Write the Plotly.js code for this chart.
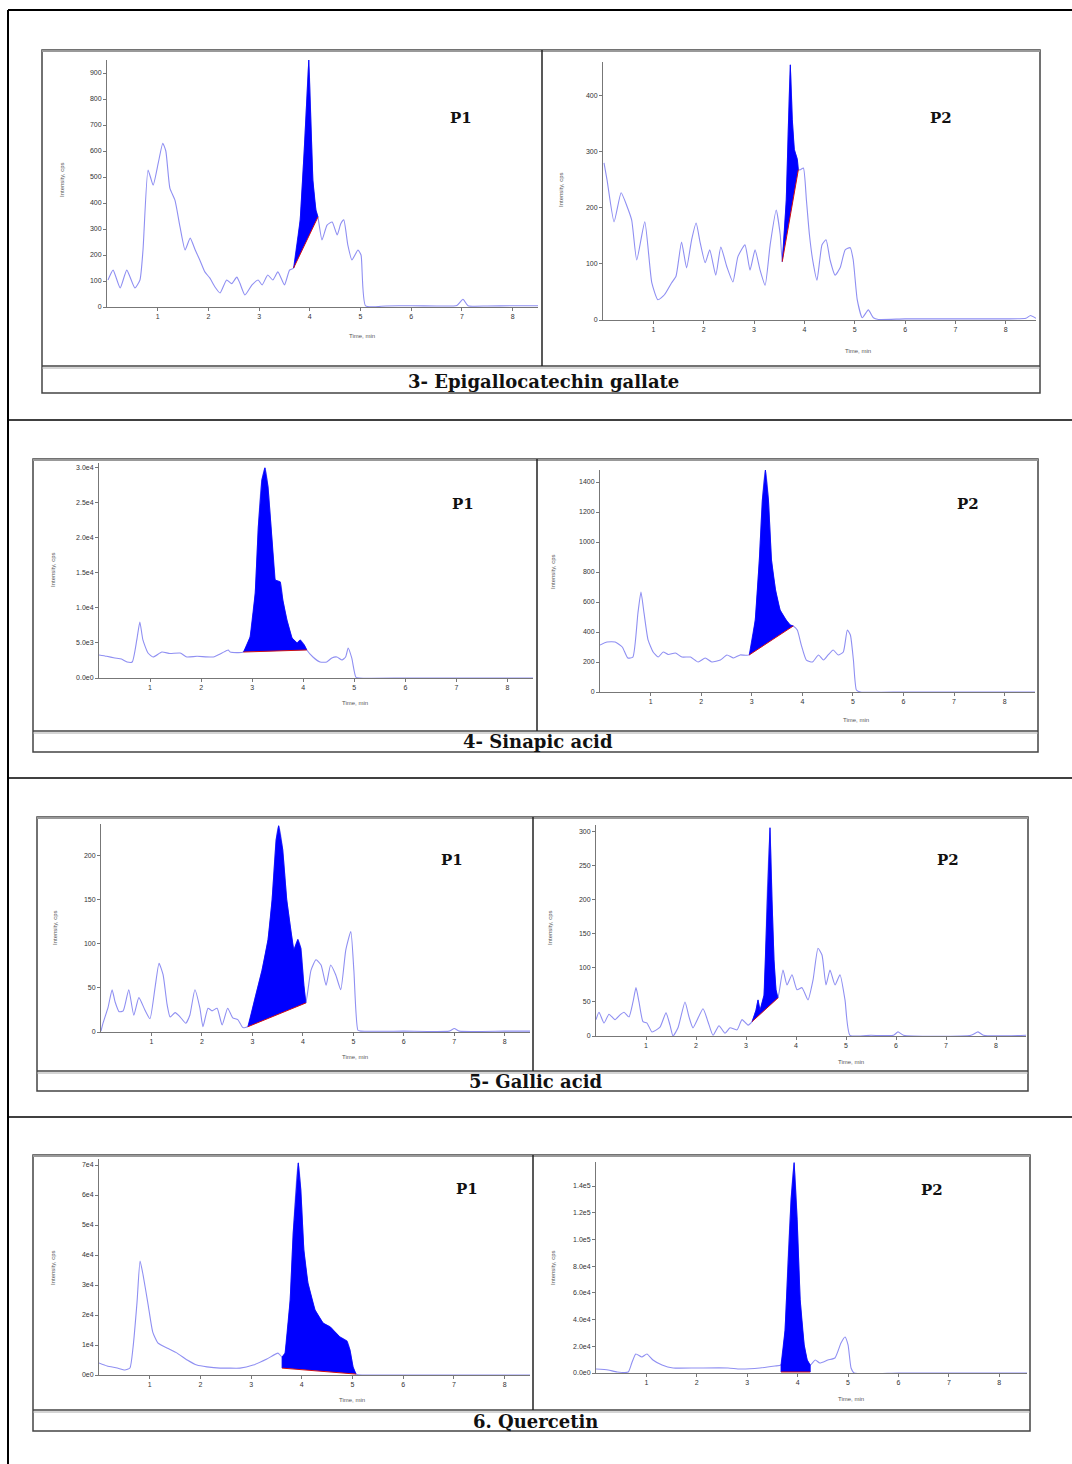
<!DOCTYPE html>
<html>
<head>
<meta charset="utf-8">
<script src="https://cdn.plot.ly/plotly-3.0.1.min.js"></script>
<style>html,body{margin:0;padding:0;background:#fff;}#chart{width:1072px;height:1464px;}</style>
</head>
<body>
<div id="chart"></div>
<script>
// ---------- DATA ----------
const compoundTitles = ["3- Epigallocatechin gallate", "4- Sinapic acid", "5- Gallic acid", "6. Quercetin"];
const panelLabels = ["P1", "P2"];
const xTitle = "Time, min";
const yTitle = "Intensity, cps";
const xTickVals = [1, 2, 3, 4, 5, 6, 7, 8];

// 3- Epigallocatechin gallate, P1
const egcgP1Time = [0.02,0.12,0.26,0.39,0.55,0.65,0.71,0.81,0.91,1.01,1.10,1.16,1.24,1.34,1.44,1.54,1.64,1.74,1.83,1.93,2.03,2.13,2.23,2.36,2.46,2.56,2.62,2.72,2.86,2.98,3.06,3.17,3.27,3.37,3.5,3.6,3.68,3.81,3.89,3.94,3.98,4.02,4.06,4.12,4.16,4.24,4.34,4.44,4.54,4.61,4.67,4.75,4.83,4.89,4.95,5.01,5.1,5.5,6.0,6.5,6.9,7.02,7.12,7.5,8.0,8.5];
const egcgP1Int  = [104,142,73,142,73,104,219,527,469,553,630,600,457,411,308,219,265,219,181,135,111,77,54,104,90,115,92,46,85,104,85,123,104,135,85,142,150,335,604,796,950,719,488,373,346,258,315,327,277,320,335,238,181,200,219,200,4,4,5,4,6,30,5,4,5,5];
const egcgP1Peak = [3.68, 150, 4.16, 346];
const egcgP1YTicks = [0,100,200,300,400,500,600,700,800,900];
const egcgP1YText  = ["0","100","200","300","400","500","600","700","800","900"];

// 3- Epigallocatechin gallate, P2
const egcgP2Time = [0.02,0.08,0.22,0.36,0.48,0.57,0.67,0.83,0.97,1.09,1.22,1.36,1.45,1.56,1.66,1.76,1.85,1.93,2.03,2.12,2.24,2.34,2.46,2.58,2.68,2.82,2.92,3.02,3.12,3.22,3.32,3.44,3.52,3.56,3.64,3.68,3.72,3.76,3.80,3.86,3.88,3.92,3.98,4.04,4.10,4.17,4.25,4.35,4.43,4.51,4.61,4.71,4.81,4.91,4.97,5.05,5.15,5.27,5.37,5.47,6.0,7.0,8.0,8.4,8.49,8.6];
const egcgP2Int  = [280,250,175,227,202,178,107,175,66,36,45,66,78,139,93,143,173,138,102,125,80,130,95,68,113,134,89,125,89,62,134,196,152,104,214,339,455,357,304,286,268,268,271,214,152,104,71,134,143,107,80,93,125,129,107,36,4,18,4,1,2,2,2,3,8,3];
const egcgP2Peak = [3.56, 104, 3.88, 268];
const egcgP2YTicks = [0,100,200,300,400];
const egcgP2YText  = ["0","100","200","300","400"];

// 4- Sinapic acid, P1
const sinP1Time = [0.0,0.15,0.31,0.44,0.55,0.65,0.74,0.80,0.86,0.96,1.06,1.23,1.39,1.59,1.72,1.92,2.24,2.41,2.53,2.57,2.83,2.96,3.06,3.12,3.19,3.25,3.31,3.39,3.45,3.55,3.60,3.68,3.78,3.88,3.94,4.02,4.07,4.19,4.33,4.46,4.56,4.66,4.76,4.83,4.88,4.95,5.03,5.1,6.0,7.0,8.0,8.5];
const sinP1Int  = [3290,3100,2860,2700,2290,2290,5430,8000,5430,3570,3000,3710,3500,3570,3000,3100,3000,3570,4000,3710,3710,5860,12140,21570,28290,30000,27290,19290,14000,13710,11140,8290,5710,5000,5430,4710,4000,3000,2290,2290,2860,3000,2570,3000,4290,2860,140,0,0,0,0,0];
const sinP1Peak = [2.83, 3710, 4.07, 4000];
const sinP1YTicks = [0,5000,10000,15000,20000,25000,30000];
const sinP1YText  = ["0.0e0","5.0e3","1.0e4","1.5e4","2.0e4","2.5e4","3.0e4"];

// 4- Sinapic acid, P2
const sinP2Time = [0.0,0.14,0.30,0.44,0.55,0.65,0.75,0.81,0.87,0.95,1.05,1.15,1.25,1.35,1.49,1.62,1.79,1.94,2.08,2.21,2.38,2.51,2.64,2.77,2.95,3.07,3.15,3.21,3.27,3.33,3.39,3.47,3.56,3.68,3.76,3.82,3.90,3.98,4.08,4.20,4.32,4.42,4.51,4.61,4.71,4.81,4.89,4.95,5.01,5.07,5.15,6.0,7.0,8.0,8.6];
const sinP2Int  = [313,333,333,300,227,233,527,667,527,347,267,233,267,250,260,233,233,200,227,200,213,247,227,247,247,480,880,1280,1480,1280,880,680,547,480,447,440,413,313,213,200,247,213,247,280,247,267,413,380,213,13,0,0,0,0,0];
const sinP2Peak = [2.95, 247, 3.82, 440];
const sinP2YTicks = [0,200,400,600,800,1000,1200,1400];
const sinP2YText  = ["0","200","400","600","800","1000","1200","1400"];

// 5- Gallic acid, P1
const galP1Time = [0.0,0.04,0.14,0.22,0.28,0.36,0.44,0.55,0.65,0.75,0.87,0.97,1.07,1.15,1.23,1.31,1.37,1.47,1.57,1.68,1.76,1.86,1.96,2.02,2.12,2.20,2.30,2.40,2.51,2.61,2.71,2.81,2.91,3.05,3.19,3.31,3.39,3.47,3.52,3.60,3.68,3.76,3.82,3.90,3.96,4.02,4.06,4.16,4.26,4.36,4.46,4.55,4.65,4.75,4.85,4.95,5.01,5.09,5.15,6.0,6.9,7.0,7.1,8.0,8.5];
const galP1Int  = [1,10,28,48,34,23,24,48,19,39,25,15,50,78,65,31,17,22,17,10,19,48,27,6,27,24,27,8,27,16,14,5,6,38,70,105,150,218,234,207,150,116,93,105,95,53,33,70,82,76,53,76,65,48,93,114,70,2,1,1,1,4,1,1,1];
const galP1Peak = [2.91, 6, 4.06, 33];
const galP1YTicks = [0,50,100,150,200];
const galP1YText  = ["0","50","100","150","200"];

// 5- Gallic acid, P2
const galP2Time = [0.0,0.06,0.16,0.26,0.38,0.48,0.56,0.66,0.74,0.80,0.86,0.94,1.02,1.12,1.28,1.40,1.48,1.54,1.64,1.78,1.86,1.94,2.14,2.24,2.34,2.46,2.58,2.68,2.82,2.92,3.04,3.12,3.20,3.24,3.28,3.36,3.42,3.48,3.52,3.56,3.60,3.64,3.74,3.82,3.92,4.02,4.12,4.24,4.34,4.44,4.52,4.60,4.68,4.78,4.88,4.98,5.08,5.5,5.95,6.04,6.15,7.5,7.64,7.75,8.6];
const galP2Int  = [24,35,19,32,24,31,35,28,50,71,50,21,19,6,13,34,16,0,12,50,28,12,40,21,1,15,4,12,9,24,16,21,38,53,38,60,200,306,200,112,68,56,97,75,90,68,71,53,82,129,119,75,97,75,90,53,1,1,1,6,1,1,6,1,1];
const galP2Peak = [3.12, 21, 3.64, 56];
const galP2YTicks = [0,50,100,150,200,250,300];
const galP2YText  = ["0","50","100","150","200","250","300"];

// 6. Quercetin, P1
const querP1Time = [0.0,0.16,0.36,0.51,0.61,0.67,0.75,0.81,0.87,0.97,1.06,1.16,1.34,1.54,1.74,1.93,2.13,2.39,2.54,2.78,3.04,3.31,3.53,3.61,3.67,3.77,3.83,3.90,3.93,3.98,4.04,4.12,4.26,4.42,4.56,4.75,4.89,4.95,5.01,5.07,5.2,6.0,7.0,8.0,8.5];
const querP1Int  = [4000,3000,2330,1670,2330,9000,24300,38000,33300,23300,14300,10700,9000,7300,5000,3300,2700,2300,2300,2300,3300,5300,7300,6000,7300,25000,47300,66000,70700,61700,41700,30700,21700,17300,16000,12700,11300,8300,2700,300,0,0,0,0,0];
const querP1Peak = [3.61, 2300, 5.07, 300];
const querP1YTicks = [0,10000,20000,30000,40000,50000,60000,70000];
const querP1YText  = ["0e0","1e4","2e4","3e4","4e4","5e4","6e4","7e4"];

// 6. Quercetin, P2
const querP2Time = [0.0,0.24,0.42,0.64,0.71,0.79,0.91,1.01,1.13,1.31,1.53,2.00,2.62,2.86,3.25,3.55,3.67,3.75,3.81,3.87,3.93,3.99,4.05,4.13,4.19,4.25,4.35,4.44,4.60,4.74,4.86,4.94,5.00,5.06,5.12,6.0,7.0,8.0,8.55];
const querP2Int  = [3000,2250,750,750,7500,14250,12000,14250,9750,6000,3750,3750,3750,3000,3750,5250,6000,32000,85000,130000,157500,115000,55000,21000,9750,6000,9750,7500,9750,11250,22500,27000,21000,3750,0,0,0,0,0];
const querP2Peak = [3.67, 750, 4.25, 750];
const querP2YTicks = [0,20000,40000,60000,80000,100000,120000,140000];
const querP2YText  = ["0.0e0","2.0e4","4.0e4","6.0e4","8.0e4","1.0e5","1.2e5","1.4e5"];

// ---------- LAYOUT GEOMETRY (pixels) ----------
const W = 1072, H = 1464;
const px = v => v / W;
const py = v => 1 - v / H;

const panels = [
  {t: egcgP1Time, v: egcgP1Int, pk: egcgP1Peak, yt: egcgP1YTicks, ytt: egcgP1YText, x0:107, x1:538, xmax:8.5, ytop:60,  ybot:307,  ymax:950,   lab:[461,118], xt:[362,336],  yti:[62,180]},
  {t: egcgP2Time, v: egcgP2Int, pk: egcgP2Peak, yt: egcgP2YTicks, ytt: egcgP2YText, x0:603, x1:1036,xmax:8.6, ytop:62,  ybot:320,  ymax:460,   lab:[941,118], xt:[858,351],  yti:[561,190]},
  {t: sinP1Time,  v: sinP1Int,  pk: sinP1Peak,  yt: sinP1YTicks,  ytt: sinP1YText,  x0:99,  x1:533, xmax:8.5, ytop:463, ybot:678,  ymax:30700, lab:[463,504], xt:[355,703],  yti:[53,570]},
  {t: sinP2Time,  v: sinP2Int,  pk: sinP2Peak,  yt: sinP2YTicks,  ytt: sinP2YText,  x0:600, x1:1035,xmax:8.6, ytop:470, ybot:692,  ymax:1480,  lab:[968,504], xt:[856,720],  yti:[553,572]},
  {t: galP1Time,  v: galP1Int,  pk: galP1Peak,  yt: galP1YTicks,  ytt: galP1YText,  x0:101, x1:530, xmax:8.5, ytop:824, ybot:1032, ymax:236,   lab:[452,860], xt:[355,1057], yti:[55,928]},
  {t: galP2Time,  v: galP2Int,  pk: galP2Peak,  yt: galP2YTicks,  ytt: galP2YText,  x0:596, x1:1026,xmax:8.6, ytop:825, ybot:1036, ymax:310,   lab:[948,860], xt:[851,1062], yti:[550,928]},
  {t: querP1Time, v: querP1Int, pk: querP1Peak, yt: querP1YTicks, ytt: querP1YText, x0:99,  x1:530, xmax:8.5, ytop:1159,ybot:1375, ymax:72000, lab:[467,1189],xt:[352,1400], yti:[53,1268]},
  {t: querP2Time, v: querP2Int, pk: querP2Peak, yt: querP2YTicks, ytt: querP2YText, x0:596, x1:1027,xmax:8.55,ytop:1162,ybot:1373, ymax:158000,lab:[932,1190],xt:[851,1399], yti:[553,1268]}
];

const boxes = [
  {x0:42, x1:1040, y0:50,  y1:393,  cap:366,  div:542, tx:543, ty:381},
  {x0:33, x1:1038, y0:459, y1:752,  cap:731,  div:537, tx:538, ty:742},
  {x0:37, x1:1028, y0:817, y1:1091, cap:1071, div:533, tx:535, ty:1081},
  {x0:33, x1:1030, y0:1155,y1:1431, cap:1410, div:533, tx:535, ty:1421}
];

const traces = [];
const layout = {
  width: W, height: H,
  margin: {l:0, r:0, t:0, b:0, pad:0},
  paper_bgcolor: '#ffffff', plot_bgcolor: 'rgba(0,0,0,0)',
  showlegend: false,
  shapes: [], annotations: []
};

const axisFont = {family: 'Liberation Sans, Arial, sans-serif', size: 7, color: '#333'};

panels.forEach((p, i) => {
  const n = i + 1;
  const xa = 'x' + (n === 1 ? '' : n), ya = 'y' + (n === 1 ? '' : n);
  const xk = 'xaxis' + (n === 1 ? '' : n), yk = 'yaxis' + (n === 1 ? '' : n);
  layout[xk] = {
    domain: [px(p.x0), px(p.x1)], anchor: ya, range: [0, p.xmax],
    showgrid: false, zeroline: false, showline: true, linecolor: '#777', linewidth: 1,
    ticks: 'outside', ticklen: 3, tickcolor: '#777', tickvals: xTickVals,
    ticktext: xTickVals.map(String), tickfont: axisFont, fixedrange: true
  };
  layout[yk] = {
    domain: [py(p.ybot), py(p.ytop)], anchor: xa, range: [0, p.ymax],
    showgrid: false, zeroline: false, showline: true, linecolor: '#777', linewidth: 1,
    ticks: 'outside', ticklen: 3, tickcolor: '#777', tickvals: p.yt, ticktext: p.ytt,
    tickfont: axisFont, fixedrange: true
  };
  // chromatogram line
  traces.push({x: p.t, y: p.v, xaxis: xa, yaxis: ya, type: 'scatter', mode: 'lines',
    line: {color: '#8f8ff2', width: 1.1, shape: 'spline', smoothing: 0.5}, hoverinfo: 'skip', cliponaxis: true});
  // integrated peak area
  const fx = [p.pk[0]], fy = [p.pk[1]];
  p.t.forEach((tt, k) => { if (tt >= p.pk[0] && tt <= p.pk[2]) { fx.push(tt); fy.push(p.v[k]); } });
  fx.push(p.pk[2]); fy.push(p.pk[3]);
  traces.push({x: fx, y: fy, xaxis: xa, yaxis: ya, type: 'scatter', mode: 'lines',
    fill: 'toself', fillcolor: '#0000ff', line: {color: '#0000ff', width: 0.8}, hoverinfo: 'skip'});
  // baseline
  traces.push({x: [p.pk[0], p.pk[2]], y: [p.pk[1], p.pk[3]], xaxis: xa, yaxis: ya, type: 'scatter',
    mode: 'lines', line: {color: '#d01010', width: 1}, hoverinfo: 'skip'});

  layout.annotations.push({xref:'paper', yref:'paper', x: px(p.lab[0]), y: py(p.lab[1]), text: '<b>' + panelLabels[i % 2] + '</b>',
    showarrow: false, xanchor: 'center', yanchor: 'middle', font: {family: 'DejaVu Serif, serif', size: 15, color: '#111'}});
  layout.annotations.push({xref:'paper', yref:'paper', x: px(p.xt[0]), y: py(p.xt[1]), text: xTitle,
    showarrow: false, xanchor: 'center', yanchor: 'middle', font: {family: 'Liberation Sans, Arial, sans-serif', size: 6, color: '#555'}});
  layout.annotations.push({xref:'paper', yref:'paper', x: px(p.yti[0]), y: py(p.yti[1]), text: yTitle, textangle: -90,
    showarrow: false, xanchor: 'center', yanchor: 'middle', font: {family: 'Liberation Sans, Arial, sans-serif', size: 6, color: '#555'}});
});

// outer table lines
const S = layout.shapes;
const line = (x0, y0, x1, y1, c, w) => S.push({type:'line', xref:'paper', yref:'paper', x0:px(x0), y0:py(y0), x1:px(x1), y1:py(y1), line:{color:c, width:w}});
line(8, 10, 1072, 10, '#000', 2);
line(8, 10, 8, 1464, '#000', 2);
[420, 778, 1117].forEach(yy => line(8, yy, 1072, yy, '#000', 1.5));

boxes.forEach((b, i) => {
  S.push({type:'rect', xref:'paper', yref:'paper', x0:px(b.x0), x1:px(b.x1), y0:py(b.y1), y1:py(b.y0), line:{color:'#444', width:1.5}, layer:'below'});
  line(b.x0, b.y0 + 1, b.x1, b.y0 + 1, '#999', 2);
  line(b.x0, b.cap, b.x1, b.cap, '#444', 1.5);
  line(b.x0, b.cap + 2, b.x1, b.cap + 2, '#aaa', 1);
  line(b.div, b.y0, b.div, b.cap, '#222', 1.5);
  layout.annotations.push({xref:'paper', yref:'paper', x: px(b.tx), y: py(b.ty), text: '<b>' + compoundTitles[i] + '</b>',
    showarrow: false, xanchor: 'center', yanchor: 'middle', font: {family: 'DejaVu Serif, serif', size: 18, color: '#111'}});
});

Plotly.newPlot('chart', traces, layout, {staticPlot: true, displayModeBar: false});
</script>
</body>
</html>
